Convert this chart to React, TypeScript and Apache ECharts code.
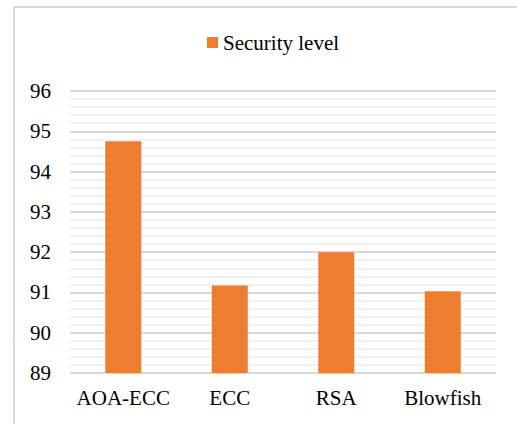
import React, { useEffect, useRef } from "react";
import * as echarts from "echarts";

const categories = ["AOA-ECC", "ECC", "RSA", "Blowfish"];
const securityLevel = [94.75, 91.17, 92.0, 91.03];
const seriesName = "Security level";

export default function App() {
  const ref = useRef<HTMLDivElement>(null);
  useEffect(() => {
    if (!ref.current) return;
    const chart = echarts.init(ref.current, null, { renderer: "svg" });
    const font = "Liberation Serif";
    chart.setOption({
      animation: false,
      backgroundColor: "#ffffff",
      textStyle: { fontFamily: font },
      graphic: [
        {
          type: "rect",
          shape: { x: 14, y: 7, width: 520, height: 430 },
          style: { fill: "none", stroke: "#d9d9d9", lineWidth: 2 },
          silent: true,
        },
      ],
      legend: {
        data: [seriesName],
        top: 32,
        left: 207,
        padding: 0,
        icon: "rect",
        itemWidth: 11,
        itemHeight: 11,
        itemGap: 5,
        textStyle: { fontFamily: font, fontSize: 21, color: "#000", padding: [0, 0, 0, 0] },
      },
      grid: { left: 70, right: 21, top: 91, bottom: 51, containLabel: false },
      xAxis: {
        type: "category",
        data: categories,
        axisLine: { show: false },
        axisTick: { show: false },
        axisLabel: { interval: 0, fontFamily: font, fontSize: 21, color: "#000", margin: 14 },
      },
      yAxis: {
        type: "value",
        min: 89,
        max: 96,
        interval: 1,
        axisLine: { show: false },
        axisTick: { show: false },
        axisLabel: { fontFamily: font, fontSize: 21, color: "#000", margin: 19 },
        splitLine: { show: true, lineStyle: { color: "#d9d9d9", width: 2 } },
        minorTick: { show: false, splitNumber: 5 },
        minorSplitLine: { show: true, lineStyle: { color: "#f0f0f0", width: 2 } },
      },
      series: [
        {
          name: seriesName,
          type: "bar",
          data: securityLevel,
          barWidth: 36,
          itemStyle: { color: "#ED7D31" },
        },
      ],
    });
    return () => chart.dispose();
  }, []);
  return (
    <div
      ref={ref}
      style={{ position: "fixed", left: 0, top: 0, width: 517, height: 424 }}
    />
  );
}
